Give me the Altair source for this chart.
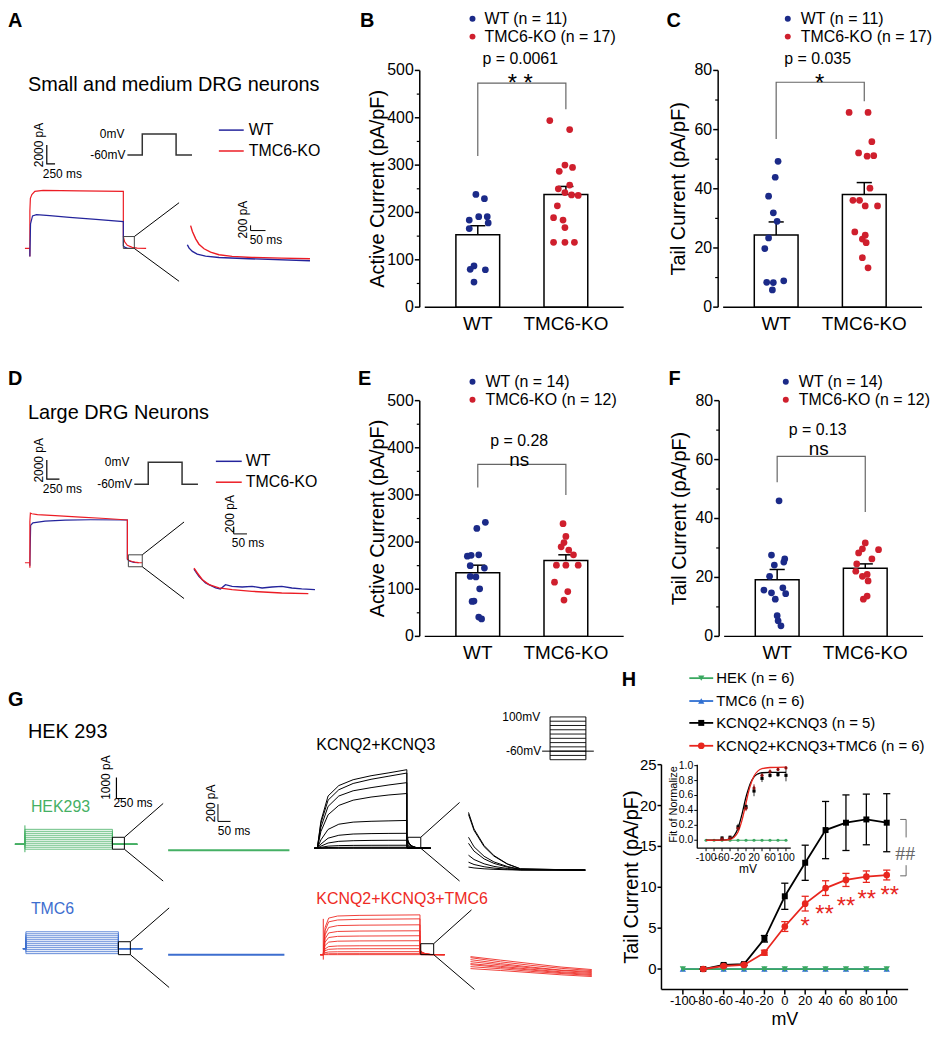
import altair as alt
import pandas as pd

FONT = "Liberation Sans"
ONE = pd.DataFrame({"a": [0]})
VW, VH = 925, 1000

NAVY = "#1b2a88"
DRED = "#cf1f2d"
TBLUE = "#24249c"
TRED = "#ec1c24"
GGREEN = "#45b064"
GBLUE = "#3d6ecf"
GRED = "#ee2a24"
HGREEN = "#3aa860"
HBLUE = "#2f6fd2"
HRED = "#e8261e"
GRAY = "#666666"

# panel origins (plot-area top-left, in chart pixels)
PA, PB, PC = (0, 60), (414, 60), (714, 60)
PD, PE, PF = (0, 392), (414, 392), (715, 392)
PG, PH = (0, 758), (657, 758)

# ===================== DATA: scatter/bar panels =====================
GROUPS = ["WT", "TMC6-KO"]

B_wt = [238, 229, 191, 191, 184, 178, 166, 87, 80, 79, 53]
B_wt_jit = [-2, 7, 1, 10, -9, 11, -9, -4, -8, 8, -4]
B_ko = [394, 375, 300, 295, 287, 258, 250, 242, 237, 236, 214, 189, 184, 168, 137, 137, 137]
B_ko_jit = [-17, 4, -1, 7, -7, 4, -8, -1, 6, 13, -9, -13, -3, -1, -13, -1, 9]
B_mean = [153, 238]
B_sem = [19, 17]

C_wt = [49.3, 43.9, 37.5, 31.9, 29.0, 23.4, 19.8, 8.4, 8.3, 8.9, 5.8]
C_wt_jit = [2, -1, -8, -3, 1, -8, -12, -10, -3, 8, -4]
C_ko = [65.8, 65.8, 55.9, 52.1, 51.0, 51.2, 40.2, 36.1, 36.1, 34.2, 34.2, 25.4, 24.3, 23.0, 21.8, 16.7, 13.3]
C_ko_jit = [-16, 4, 8, -6, 3, 10, 6, -12, -5, 1, 14, -10, 1, -2, 2, -2, 4]
C_mean = [24.4, 38.1]
C_sem = [4.4, 4.0]

E_wt = [242, 229, 173, 172, 170, 150, 145, 127, 126, 101, 75, 74, 41, 37]
E_wt_jit = [8, -1, 1, -7, -11, -8, 7, -8, -2, 2, -4, -6, 1, 4]
E_ko = [239, 212, 199, 190, 183, 173, 151, 151, 151, 115, 95, 77]
E_ko_jit = [-3, 0, -2, -5, 3, 8, -10, 0, 13, -12, 2, -2]
E_mean = [135, 161]
E_sem = [16, 12]

F_wt = [46, 27.6, 26.3, 25.2, 24.2, 20.4, 16.5, 15.7, 14.8, 14.5, 12.6, 7.0, 5.3, 3.6]
F_wt_jit = [2, -6, 8, 7, -3, -8, 6, -14, -6, 9, -2, 0, 1, 4]
F_ko = [31.7, 29.7, 29.4, 28.3, 26.3, 24.6, 22.1, 21.0, 20.4, 18.8, 13.7, 12.6]
F_ko_jit = [0, -3, 14, -7, 7, -9, -10, 2, -3, 3, 2, -2]
F_mean = [19.2, 23.1]
F_sem = [3.5, 1.5]

B_bracket = [319, 473, 473, 418]
C_bracket = [56.8, 76, 76, 69.6]
E_bracket = [316, 365, 365, 300]
F_bracket = [52.3, 61.1, 61.1, 42.2]

# ===================== DATA: traces A =====================
A_red_t = [-150, 0, 0, 0, 15, 60, 150, 400, 1500, 2830, 2830, 2870, 2950, 3100, 3250, 3520]
A_red_i = [0, 0, -850, 4000, 5300, 5700, 6050, 6150, 6100, 6050, 1260, 700, 330, 120, 40, 0]
A_blue_t = [0, 0, 20, 80, 200, 600, 1200, 2000, 2830, 2830, 2880, 2950, 3050]
A_blue_i = [0, -850, 2600, 3450, 3580, 3480, 3300, 3080, 2850, 280, 110, 30, 0]
A_box_t = [2830, 3163]
A_box_i = [0, 1263]
A_zoom = [[3163, 1263, 4518, 4842], [3163, 0, 4518, -3474]]
A_prot_t = [-440, 0, 0, 1000, 1000, 1470]
A_prot_v = [-60, -60, 0, 0, -60, -60]
A_in_red_t = [12, 18, 29, 40, 57, 79, 107, 151, 218, 318, 412]
A_in_red_i = [1283, 1057, 781, 577, 404, 275, 177, 113, 75, 49, 26]
A_in_blue_t = [1, 7, 18, 34, 62, 107, 207, 412]
A_in_blue_i = [555, 426, 302, 200, 125, 75, 26, -49]

# ===================== DATA: traces D =====================
D_red_t = [-98, 0, 0, 0, 10, 40, 150, 500, 1000, 1500, 1930, 1930, 1960, 2020, 2080, 2150, 2224]
D_red_i = [0, 0, -520, 4300, 5170, 5100, 5000, 4900, 4750, 4600, 4450, 420, 250, 130, 60, 20, 0]
D_blue_t = [0, 0, 15, 60, 300, 700, 1200, 1930, 1930, 1980, 2060, 2150]
D_blue_i = [0, -300, 3900, 4150, 4320, 4430, 4470, 4450, 350, 150, 40, 0]
D_box_t = [1949, 2224]
D_box_i = [-414, 827]
D_zoom = [[2224, 827, 3051, 4240], [2224, -414, 3051, -3723]]
D_prot_t = [-412, 0, 0, 1000, 1000, 1470]
D_prot_v = [-60, -60, 0, 0, -60, -60]
D_in_red_t = [7.5, 20, 39, 64, 101, 151, 226, 338, 438]
D_in_red_i = [673, 537, 354, 218, 128, 82, 35, -9, -27]
D_in_blue_t = [7.5, 26, 51, 89, 107, 126, 151, 189, 226, 264, 301, 338, 376, 413, 463]
D_in_blue_i = [646, 444, 264, 128, 101, 218, 172, 155, 172, 128, 155, 172, 128, 101, 82]

# ===================== DATA: traces G =====================
G_hek_levels = [714, 619, 524, 429, 333, 238, 143, 48, -48, -143, -238]
G_hek_t = [-278, 0, 0, 2444, 2444, 3139]
G_tmc_levels = [810, 714, 619, 524, 429, 333, 238, 143, 48, -48, -143, -238]
G_tmc_t = [-83, 0, 0, 2583, 2583, 3250]

G_k_t = [-83, 0, 100, 300, 600, 1000, 1500, 2000, 2500, 2500, 2560, 2640, 2750, 2900, 3167]
G_k_traces = [
    [0, 0, 1300, 2500, 3000, 3280, 3470, 3610, 3760, 480, 250, 110, 40, 5, 0],
    [0, 0, 1200, 2300, 2800, 3100, 3300, 3450, 3600, 460, 240, 105, 38, 5, 0],
    [0, 0, 1000, 2000, 2500, 2750, 2900, 3030, 3140, 400, 210, 90, 33, 4, 0],
    [0, 0, 800, 1600, 2050, 2300, 2450, 2550, 2620, 330, 170, 75, 27, 3, 0],
    [0, 0, 400, 900, 1150, 1250, 1290, 1310, 1330, 190, 100, 45, 16, 2, 0],
    [0, 0, 200, 480, 620, 680, 700, 710, 714, 110, 57, 25, 9, 1, 0],
    [0, 0, 100, 250, 330, 360, 375, 380, 381, 50, 26, 12, 4, 0, 0],
    [0, 0, 40, 100, 125, 135, 140, 142, 143, 20, 10, 5, 2, 0, 0],
    [0, 0, 15, 35, 42, 45, 47, 48, 48, 5, 3, 1, 0, 0, 0],
    [0, 0, 5, 10, 12, 14, 15, 15, 15, 0, 0, 0, 0, 0, 0],
    [0, 0, 0, 0, 0, 0, 0, 0, 0, 0, 0, 0, 0, 0, 0],
]
G_k_in_t = [0, 22, 62, 101, 154, 207, 464]
G_k_in = [
    [669, 476, 284, 169, 73, 15, 0],
    [646, 460, 272, 162, 70, 14, 0],
    [381, 270, 160, 95, 42, 9, 0],
    [311, 220, 130, 78, 34, 7, 0],
    [173, 123, 73, 43, 19, 4, 0],
    [92, 65, 39, 23, 10, 2, 0],
    [35, 25, 15, 9, 4, 1, 0],
]
G_r_t = [-83, 0, 50, 150, 400, 1000, 2700, 2700, 2760, 2850, 3000, 3389]
G_r_traces = [
    [0, 0, 1300, 1750, 1850, 1880, 1905, 240, 120, 50, 10, 0],
    [0, 0, 1150, 1570, 1660, 1690, 1714, 220, 110, 45, 9, 0],
    [0, 0, 950, 1300, 1390, 1410, 1429, 190, 95, 40, 8, 0],
    [0, 0, 760, 1040, 1110, 1130, 1143, 160, 80, 33, 7, 0],
    [0, 0, 600, 820, 875, 890, 905, 130, 65, 27, 5, 0],
    [0, 0, 440, 600, 645, 657, 667, 100, 50, 20, 4, 0],
    [0, 0, 280, 385, 415, 424, 429, 70, 35, 14, 3, 0],
    [0, 0, 190, 255, 277, 283, 286, 50, 25, 10, 2, 0],
    [0, 0, 95, 128, 138, 141, 143, 25, 12, 5, 1, 0],
    [0, 0, 30, 43, 46, 47, 48, 10, 5, 2, 0, 0],
    [0, 0, 0, 0, 0, 0, 0, 0, 0, 0, 0, 0],
]
G_r_in_t = [0, 120, 240, 360, 482]
G_r_in = [
    [231, 190, 150, 110, 81],
    [219, 170, 130, 95, 69],
    [196, 150, 110, 75, 58],
    [173, 135, 100, 70, 46],
    [150, 118, 85, 55, 35],
    [138, 105, 75, 45, 23],
    [115, 90, 60, 35, 12],
    [92, 70, 45, 20, 0],
]
G_prot_levels = [-100, -80, -60, -40, -20, 0, 20, 40, 60, 80, 100]

# ===================== DATA: panel H =====================
H_mv = [-100, -80, -60, -40, -20, 0, 20, 40, 60, 80, 100]
H_yticks = [0, 5, 10, 15, 20, 25]
H_hek = [0, 0, 0, 0, 0, 0, 0, 0, 0, 0, 0]
H_tmc = [0, 0, 0, 0, 0, 0, 0, 0, 0, 0, 0]
K_mv = [-80, -60, -40, -20, 0, 20, 40, 60, 80, 100]
K_mean = [0, 0.5, 0.6, 3.7, 8.9, 13.0, 17.0, 17.9, 18.3, 17.9]
K_err = [0.05, 0.1, 0.15, 0.4, 1.6, 2.15, 3.5, 3.4, 3.1, 3.55]
R_mean = [0, 0.37, 0.5, 2.0, 5.2, 8.0, 9.9, 10.9, 11.3, 11.5]
R_err = [0.05, 0.1, 0.1, 0.3, 0.6, 0.9, 0.9, 0.8, 0.7, 0.6]
STAR_mv = [20, 39, 60, 80.5, 103]
STAR_v = [6.0, 7.5, 8.4, 9.3, 9.8]
STAR_txt = ["*", "**", "**", "**", "**"]

IN_fit_mv = [-100, -60, -40, -30, -20, -10, 0, 5, 10, 20, 30, 40, 60, 100]
IN_fit_k = [0.0, 0.002, 0.02, 0.06, 0.16, 0.35, 0.58, 0.67, 0.75, 0.85, 0.89, 0.905, 0.91, 0.91]
IN_fit_r = [0.0, 0.001, 0.01, 0.04, 0.11, 0.27, 0.5, 0.62, 0.72, 0.86, 0.93, 0.96, 0.975, 0.98]
IN_mv = [-60, -40, -20, 0, 20, 40, 60, 80, 100]
IN_k = [0.03, 0.04, 0.18, 0.45, 0.66, 0.83, 0.87, 0.88, 0.87]
IN_k_e = [0.02, 0.02, 0.04, 0.04, 0.07, 0.05, 0.03, 0.03, 0.08]
IN_r = [0.02, 0.03, 0.16, 0.43, 0.70, 0.87, 0.92, 0.95, 0.97]
IN_r_e = [0.01, 0.01, 0.03, 0.04, 0.05, 0.04, 0.03, 0.02, 0.02]
IN_yticks = [0.0, 0.2, 0.4, 0.6, 0.8, 1.0]
IN_xticks = [-100, -80, -60, -40, -20, 0, 20, 40, 60, 80, 100]
IN_xlabels = [-100, -60, -20, 20, 60, 100]


# ===================== helpers =====================
def T(o, text, x, y, size=16, align="left", baseline="middle", color="black",
      angle=None, weight="normal", font=FONT, dy=None):
    kw = dict(text=text, fontSize=size, align=align, baseline=baseline,
              color=color, fontWeight=weight, font=font)
    if angle is not None:
        kw["angle"] = angle
    if dy is not None:
        kw["dy"] = dy
    return alt.Chart(ONE).mark_text(**kw).encode(x=alt.value(o[0] + x), y=alt.value(o[1] + y))


def HL(o, x1, x2, y, color, w=1.5):
    return alt.Chart(ONE).mark_rule(color=color, strokeWidth=w).encode(
        x=alt.value(o[0] + x1), x2=alt.value(o[0] + x2), y=alt.value(o[1] + y))


def DOT(o, x, y, color, shape="circle", size=36):
    return alt.Chart(ONE).mark_point(filled=True, shape=shape, size=size, color=color,
                                     opacity=1).encode(x=alt.value(o[0] + x), y=alt.value(o[1] + y))


def tdf(series):
    rows = []
    for k, (ts, vs) in enumerate(series):
        for o, (t, v) in enumerate(zip(ts, vs)):
            rows.append({"k": k, "o": o, "t": t, "i": v})
    return pd.DataFrame(rows)


class Frame:
    """A local (time, current) coordinate frame placed inside a panel."""

    def __init__(self, o, x0, kx, y0, ky):
        X0, Y0 = o[0] + x0, o[1] + y0
        self.sx = alt.Scale(domain=[0, 1000], range=[X0, X0 + 1000 * kx], nice=False, zero=False)
        self.sy = alt.Scale(domain=[0, 1000], range=[Y0, Y0 - 1000 * ky], nice=False, zero=False)

    def enc(self):
        return dict(x=alt.X("t:Q", scale=self.sx, axis=None),
                    y=alt.Y("i:Q", scale=self.sy, axis=None))

    def lines(self, series, color, width=1.0):
        return alt.Chart(tdf(series)).mark_line(color=color, strokeWidth=width).encode(
            detail="k:N", order="o:Q", **self.enc())

    def segs(self, segs, color="black", width=1.0):
        df = pd.DataFrame(segs, columns=["t", "i", "t2", "i2"])
        return alt.Chart(df).mark_rule(color=color, strokeWidth=width).encode(
            x2="t2:Q", y2="i2:Q", **self.enc())

    def box(self, t, i, color="black", width=1.0):
        df = pd.DataFrame({"t": [t[0]], "t2": [t[1]], "i": [i[0]], "i2": [i[1]]})
        return alt.Chart(df).mark_rect(fillOpacity=0, stroke=color, strokeWidth=width).encode(
            x2="t2:Q", y2="i2:Q", **self.enc())

    def bar(self, t, i, dt, di, width=1.2):
        return self.lines([([t, t, t + dt], [i + di, i, i])], "black", width)


# ===================== bar / scatter panels =====================
XD = [0.398, 2.656]
PXU = 210 / (XD[1] - XD[0])


def bar_panel(o, wt, wj, ko, kj, mean, sem, ymax, ystep, minor, ytitle, tdx, h,
              letter, lxy, lbase, dot_x, txt_x, leg_y, n_wt, n_ko,
              ptext, pxy, sig, sxy, ssize, sdy, bracket):
    ox, oy = o
    sx = alt.Scale(domain=XD, range=[ox, ox + 210], nice=False, zero=False)
    sy = alt.Scale(domain=[0, ymax], range=[oy + h, oy], nice=False, zero=False)
    X = alt.X("pos:Q", scale=sx, axis=None)
    Y = alt.Y("val:Q", scale=sy, axis=None)
    pts = pd.DataFrame({
        "grp": ["WT"] * len(wt) + ["TMC6-KO"] * len(ko),
        "pos": [1 + j / PXU for j in wj] + [2 + j / PXU for j in kj],
        "val": wt + ko})
    top = [m + s for m, s in zip(mean, sem)]
    summ = pd.DataFrame({"pos": [1, 2], "val": mean, "top": top,
                         "cl": [1 - 8 / PXU, 2 - 8 / PXU], "cr": [1 + 8 / PXU, 2 + 8 / PXU]})
    bars = alt.Chart(summ).mark_bar(orient="vertical", size=44, fill="white", stroke="black",
                                    strokeWidth=1.5).encode(x=X, y=Y)
    err = alt.Chart(summ).mark_rule(color="black", strokeWidth=1.5).encode(x=X, y=Y, y2="top:Q")
    cap = alt.Chart(summ).mark_rule(color="black", strokeWidth=1.5).encode(
        x=alt.X("cl:Q", scale=sx, axis=None), x2="cr:Q", y=alt.Y("top:Q", scale=sy, axis=None))
    dots = alt.Chart(pts).mark_circle(size=46, opacity=1).encode(
        x=X, y=Y, color=alt.Color("grp:N", scale=alt.Scale(domain=GROUPS, range=[NAVY, DRED]),
                                  legend=None))
    br = pd.DataFrame({"pos": [1, 1, 2, 2], "val": bracket, "o": [0, 1, 2, 3]})
    brk = alt.Chart(br).mark_line(color=GRAY, strokeWidth=1.2).encode(x=X, y=Y, order="o:Q")
    # --- axes drawn from the scales ---
    yvals = pd.DataFrame({"val": list(range(0, ymax + 1, ystep))})
    ydom = alt.Chart(pd.DataFrame({"val": [0], "v2": [ymax]})).mark_rule(
        color="black", strokeWidth=1.5).encode(x=alt.value(ox), y=Y, y2="v2:Q")
    xdom = alt.Chart(pd.DataFrame({"pos": [XD[0]], "p2": [XD[1]]})).mark_rule(
        color="black", strokeWidth=1.5).encode(x=X, x2="p2:Q", y=alt.value(oy + h))
    yt = alt.Chart(yvals).mark_rule(color="black", strokeWidth=1.5).encode(
        x=alt.value(ox - 5), x2=alt.value(ox), y=Y)
    ylab = alt.Chart(yvals).mark_text(fontSize=16, align="right", baseline="middle").encode(
        x=alt.value(ox - 6), y=Y, text="val:Q")
    mt = alt.Chart(pd.DataFrame({"val": minor})).mark_rule(color="black", strokeWidth=1.2).encode(
        x=alt.value(ox - 3), x2=alt.value(ox), y=Y)
    xlab = alt.Chart(pd.DataFrame({"pos": [1, 2], "lab": GROUPS})).mark_text(
        fontSize=19, align="center", baseline="middle").encode(
        x=X, y=alt.value(oy + h + 17), text="lab:N")
    texts = [
        T(o, ytitle, tdx, h / 2, size=20, align="center", angle=270),
        T(o, letter, lxy[0], lxy[1], size=20, weight="bold", baseline=lbase),
        DOT(o, dot_x, leg_y[0], NAVY), DOT(o, dot_x, leg_y[1], DRED),
        T(o, "WT (n = %d)" % n_wt, txt_x, leg_y[0]),
        T(o, "TMC6-KO (n = %d)" % n_ko, txt_x, leg_y[1]),
        T(o, ptext, pxy[0], pxy[1], align="center"),
        T(o, sig, sxy[0], sxy[1], size=ssize, align="center", dy=sdy),
    ]
    return [alt.layer(bars, err, cap, dots, brk, ydom, xdom, yt, ylab, mt, xlab)] + texts


panelB = bar_panel(PB, B_wt, B_wt_jit, B_ko, B_ko_jit, B_mean, B_sem, 500, 100,
                   [50, 150, 250, 350, 450], "Active Current (pA/pF)", -42, 238,
                   "B", (-60, -60), "top", 53, 65, (-52, -34), 11, 17,
                   "p = 0.0061", (101, -11), "* *", (101, 7), 24, 7, B_bracket)
panelC = bar_panel(PC, C_wt, C_wt_jit, C_ko, C_ko_jit, C_mean, C_sem, 80, 20,
                   [10, 30, 50, 70], "Tail Current (pA/pF)", -39, 238,
                   "C", (-52, -60), "top", 70, 83, (-52, -34), 11, 17,
                   "p = 0.035", (100, -11), "*", (102, 7), 24, 7, C_bracket)
panelE = bar_panel(PE, E_wt, E_wt_jit, E_ko, E_ko_jit, E_mean, E_sem, 500, 100,
                   [50, 150, 250, 350, 450], "Active Current (pA/pF)", -42, 237,
                   "E", (-62, -22), "middle", 53, 66, (-19, -1), 14, 12,
                   "p = 0.28", (100, 41), "ns", (100, 60), 19, 0, E_bracket)
panelF = bar_panel(PF, F_wt, F_wt_jit, F_ko, F_ko_jit, F_mean, F_sem, 80, 20,
                   [10, 30, 50, 70], "Tail Current (pA/pF)", -39, 237,
                   "F", (-51, -22), "middle", 67, 80, (-19, -1), 14, 12,
                   "p = 0.13", (99, 30), "ns", (100, 49), 19, 0, F_bracket)


# ===================== panel A =====================
def panel_A():
    o = PA
    fm = Frame(o, 22, 0.0332, 179, 0.0095)
    main = alt.layer(
        fm.lines([(A_red_t, A_red_i)], TRED, 1.2),
        fm.lines([(A_blue_t, A_blue_i)], TBLUE, 1.2),
        fm.box(A_box_t, A_box_i, "#444444", 1.0),
        fm.segs(A_zoom),
        fm.bar(512, 8947, 250, 2000))
    fp = Frame(o, 135, 0.034, 64, 0.35)
    prot = fp.lines([(A_prot_t, A_prot_v)], "#333333", 1.5)
    fi = Frame(o, 180, 0.3, 190, 0.0265)
    ins = alt.layer(
        fi.lines([(A_in_red_t, A_in_red_i)], TRED, 1.4),
        fi.lines([(A_in_blue_t, A_in_blue_i)], TBLUE, 1.4),
        fi.bar(213, 1094, 50, 200, 1.0))
    texts = [
        T(o, "A", 0, -60, size=20, weight="bold", baseline="top"),
        T(o, "Small and medium DRG neurons", 20, 15, size=20),
        T(o, "2000 pA", 31, 75, size=12, align="center", angle=270),
        T(o, "250 ms", 35, 104, size=12),
        T(o, "0mV", 117, 64, size=12, align="right"),
        T(o, "-60mV", 118, 85, size=12, align="right"),
        HL(o, 212, 237, 60, TBLUE), HL(o, 212, 237, 81, TRED),
        T(o, "WT", 242, 60), T(o, "TMC6-KO", 242, 81),
        T(o, "200 pA", 236, 150, size=12, align="center", angle=270),
        T(o, "50 ms", 243, 171, size=12),
    ]
    return [main, prot, ins] + texts


# ===================== panel D =====================
def panel_D():
    o = PD
    fm = Frame(o, 22, 0.0508, 163, 0.00967)
    main = alt.layer(
        fm.lines([(D_blue_t, D_blue_i)], TBLUE, 1.2),
        fm.lines([(D_red_t, D_red_i)], TRED, 1.2),
        fm.box(D_box_t, D_box_i, "#444444", 1.0),
        fm.segs(D_zoom),
        fm.bar(335, 8687, 250, 2000))
    fp = Frame(o, 141, 0.034, 62, 0.367)
    prot = fp.lines([(D_prot_t, D_prot_v)], "#333333", 1.5)
    fi = Frame(o, 185, 0.267, 193, 0.0367)
    ins = alt.layer(
        fi.lines([(D_in_blue_t, D_in_blue_i)], TBLUE, 1.4),
        fi.lines([(D_in_red_t, D_in_red_i)], TRED, 1.4),
        fi.bar(157, 1608, 50, 200, 1.0))
    texts = [
        T(o, "D", 0, -22, size=20, weight="bold"),
        T(o, "Large DRG Neurons", 20, 12, size=20),
        T(o, "2000 pA", 31, 60, size=12, align="center", angle=270),
        T(o, "250 ms", 35, 89, size=12),
        T(o, "0mV", 122, 62, size=12, align="right"),
        T(o, "-60mV", 125, 84, size=12, align="right"),
        HL(o, 209, 235, 61, TBLUE), HL(o, 209, 235, 82, TRED),
        T(o, "WT", 239, 61), T(o, "TMC6-KO", 239, 82),
        T(o, "200 pA", 223, 114, size=12, align="center", angle=270),
        T(o, "50 ms", 225, 143, size=12),
    ]
    return [main, prot, ins] + texts


# ===================== panel G =====================
def panel_G():
    o = PG
    f_hek = Frame(o, 17, 0.036, 80, 0.021)
    hek = alt.layer(
        f_hek.lines([(G_hek_t, [0, 0, L, L, 0, 0]) for L in G_hek_levels], GGREEN, 0.8),
        f_hek.lines([([0, 0], [905, -381])], GGREEN, 1.0),
        f_hek.box([2444, 2778], [-238, 333]),
        f_hek.segs([[2778, 333, 3861, 1952], [2778, -238, 3861, -1762]]),
        f_hek.bar(2556, 2190, 250, 1000))
    f_hek_in = Frame(o, 161, 0.253, 86, 0.0867)
    hek_in = alt.layer(
        f_hek_in.lines([([0, 482], [0, 0])], GGREEN, 2.0),
        f_hek_in.bar(198, 334, 50, 200, 1.0))
    f_tmc = Frame(o, 18, 0.036, 185, 0.021)
    tmc = alt.layer(
        f_tmc.lines([(G_tmc_t, [0, 0, L, L, 0, 0]) for L in G_tmc_levels], GBLUE, 0.8),
        f_tmc.box([2583, 2917], [-286, 333]),
        f_tmc.segs([[2917, 333, 4000, 1952], [2917, -286, 4000, -1857]]))
    f_tmc_in = Frame(o, 161, 0.253, 191, 0.0867)
    tmc_in = f_tmc_in.lines([([0, 462], [0, 0])], GBLUE, 2.0)
    f_k = Frame(o, 311, 0.036, 84, 0.021)
    kc = alt.layer(
        f_k.lines([(G_k_t, tr) for tr in G_k_traces], "black", 1.0),
        f_k.box([2528, 2889], [0, 524]),
        f_k.segs([[2889, 524, 3972, 2190], [2889, 0, 3972, -1571]]))
    f_k_in = Frame(o, 463, 0.253, 106, 0.0867)
    kc_in = f_k_in.lines([(G_k_in_t, tr) for tr in G_k_in], "black", 1.0)
    f_r = Frame(o, 317, 0.036, 191, 0.021)
    kr = alt.layer(
        f_r.lines([(G_r_t, tr) for tr in G_r_traces], GRED, 0.9),
        f_r.lines([([0, 0], [1714, -238])], GRED, 1.0),
        f_r.box([2722, 3083], [0, 524]),
        f_r.segs([[3083, 524, 4139, 2143], [3083, 0, 4222, -1667]]))
    f_r_in = Frame(o, 465, 0.253, 213, 0.0867)
    kr_in = f_r_in.lines([(G_r_in_t, tr) for tr in G_r_in], GRED, 0.9)
    f_p = Frame(o, 545, 0.036, -26.5, 0.215)
    prot = alt.layer(
        f_p.lines([([0, 1000], [L, L]) for L in G_prot_levels], "black", 0.9),
        f_p.lines([([0, 0], [-100, 100]), ([1000, 1000], [-100, 100])], "black", 1.0),
        f_p.lines([([-222, 1222], [-60, -60])], "black", 1.0))
    texts = [
        T(o, "G", 0, -65, size=20, weight="bold"),
        T(o, "HEK 293", 20, -33, size=20),
        T(o, "HEK293", 23, 43, size=16, color=GGREEN),
        T(o, "TMC6", 23, 145, size=16, color=GBLUE),
        T(o, "1000 pA", 99, 13, size=12, align="center", angle=270),
        T(o, "250 ms", 106, 39, size=12),
        T(o, "200 pA", 204, 39, size=12, align="center", angle=270),
        T(o, "50 ms", 211, 67, size=12),
        T(o, "KCNQ2+KCNQ3", 310, -20, size=16),
        T(o, "KCNQ2+KCNQ3+TMC6", 310, 135, size=16, color=GRED),
        T(o, "100mV", 535, -48, size=12, align="right"),
        T(o, "-60mV", 536, -14, size=12, align="right"),
    ]
    return [hek, hek_in, tmc, tmc_in, kc, kc_in, kr, kr_in, prot] + texts


# ===================== panel H =====================
def panel_H():
    o = PH
    ox, oy = o
    hh = 226
    sx = alt.Scale(domain=[-121, 121], range=[ox, ox + 248], nice=False, zero=False)
    sy = alt.Scale(domain=[-2.5, 25], range=[oy + hh, oy], nice=False, zero=False)
    X = alt.X("mv:Q", scale=sx, axis=None)
    Y = alt.Y("v:Q", scale=sy, axis=None)
    hek = pd.DataFrame({"mv": H_mv, "v": H_hek})
    tmc = pd.DataFrame({"mv": H_mv, "v": H_tmc})
    kd = pd.DataFrame({"mv": K_mv, "v": K_mean,
                       "lo": [m - e for m, e in zip(K_mean, K_err)],
                       "hi": [m + e for m, e in zip(K_mean, K_err)],
                       "cl": [x - 3.5 for x in K_mv], "cr": [x + 3.5 for x in K_mv]})
    rd = pd.DataFrame({"mv": K_mv, "v": R_mean,
                       "lo": [m - e for m, e in zip(R_mean, R_err)],
                       "hi": [m + e for m, e in zip(R_mean, R_err)],
                       "cl": [x - 3.5 for x in K_mv], "cr": [x + 3.5 for x in K_mv]})
    stars = pd.DataFrame({"mv": STAR_mv, "v": STAR_v, "s": STAR_txt})
    br1 = pd.DataFrame({"mv": [113.2, 119.0, 119.0], "v": [18.3, 18.3, 16.1], "o": [0, 1, 2]})
    br2 = pd.DataFrame({"mv": [119.0, 119.0, 113.2], "v": [12.7, 11.4, 11.4], "o": [0, 1, 2]})

    def errs(df, color):
        return [
            alt.Chart(df).mark_rule(color=color, strokeWidth=1.3).encode(
                x=X, y=alt.Y("lo:Q", scale=sy, axis=None), y2="hi:Q"),
            alt.Chart(df).mark_rule(color=color, strokeWidth=1.3).encode(
                x=alt.X("cl:Q", scale=sx, axis=None), x2="cr:Q",
                y=alt.Y("hi:Q", scale=sy, axis=None)),
            alt.Chart(df).mark_rule(color=color, strokeWidth=1.3).encode(
                x=alt.X("cl:Q", scale=sx, axis=None), x2="cr:Q",
                y=alt.Y("lo:Q", scale=sy, axis=None)),
        ]

    xv = pd.DataFrame({"mv": H_mv, "lab": [str(v) for v in H_mv]})
    yv = pd.DataFrame({"v": H_yticks})
    axes = [
        alt.Chart(pd.DataFrame({"mv": [-121], "m2": [121]})).mark_rule(
            color="black", strokeWidth=1.5).encode(x=X, x2="m2:Q", y=alt.value(oy + hh)),
        alt.Chart(pd.DataFrame({"v": [-2.5], "v2": [25]})).mark_rule(
            color="black", strokeWidth=1.5).encode(x=alt.value(ox), y=Y, y2="v2:Q"),
        alt.Chart(xv).mark_rule(color="black", strokeWidth=1.5).encode(
            x=X, y=alt.value(oy + hh), y2=alt.value(oy + hh + 5)),
        alt.Chart(xv).mark_text(fontSize=13, align="center", baseline="middle").encode(
            x=X, y=alt.value(oy + hh + 12), text="lab:N"),
        alt.Chart(yv).mark_rule(color="black", strokeWidth=1.5).encode(
            x=alt.value(ox - 4), x2=alt.value(ox), y=Y),
        alt.Chart(yv).mark_text(fontSize=15, align="right", baseline="middle").encode(
            x=alt.value(ox - 5), y=Y, text="v:Q"),
    ]

    main = alt.layer(
        alt.Chart(tmc).mark_line(color=HBLUE, strokeWidth=1.8).encode(x=X, y=Y),
        alt.Chart(tmc).mark_point(filled=True, shape="triangle-up", size=40, color=HBLUE,
                                  opacity=1).encode(x=X, y=Y),
        alt.Chart(hek).mark_line(color=HGREEN, strokeWidth=1.8).encode(x=X, y=Y),
        alt.Chart(hek).mark_point(filled=True, shape="triangle-down", size=40, color=HGREEN,
                                  opacity=1).encode(x=X, y=Y),
        *errs(kd, "black"),
        alt.Chart(kd).mark_line(color="black", strokeWidth=1.8).encode(x=X, y=Y),
        alt.Chart(kd).mark_point(filled=True, shape="square", size=36, color="black",
                                 opacity=1).encode(x=X, y=Y),
        *errs(rd, HRED),
        alt.Chart(rd).mark_line(color=HRED, strokeWidth=1.8).encode(x=X, y=Y),
        alt.Chart(rd).mark_point(filled=True, shape="circle", size=45, color=HRED,
                                 opacity=1).encode(x=X, y=Y),
        alt.Chart(stars).mark_text(color=HRED, fontSize=24, align="center", baseline="middle",
                                   dy=7).encode(x=X, y=Y, text="s:N"),
        alt.Chart(br1).mark_line(color=GRAY, strokeWidth=1.0).encode(x=X, y=Y, order="o:Q"),
        alt.Chart(br2).mark_line(color=GRAY, strokeWidth=1.0).encode(x=X, y=Y, order="o:Q"),
        *axes,
    )
    texts = [
        T(o, "mV", 124, hh + 31, size=18, align="center"),
        T(o, "Tail Current (pA/pF)", -30, hh / 2, size=20, align="center", angle=270),
        T(o, "##", 245, 90, size=20, align="center", color=GRAY, font="Liberation Serif"),
        T(o, "H", -40, -85, size=20, weight="bold"),
        HL(o, 28, 52, -87, HGREEN, 1.8), DOT(o, 40, -87, HGREEN, "triangle-down", 40),
        T(o, "HEK (n = 6)", 55, -87, size=15),
        HL(o, 28, 52, -64, HBLUE, 1.8), DOT(o, 40, -64, HBLUE, "triangle-up", 40),
        T(o, "TMC6 (n = 6)", 55, -64, size=15),
        HL(o, 28, 52, -42, "black", 1.8), DOT(o, 40, -42, "black", "square", 36),
        T(o, "KCNQ2+KCNQ3 (n = 5)", 55, -42, size=15),
        HL(o, 28, 52, -19, HRED, 1.8), DOT(o, 40, -19, HRED, "circle", 45),
        T(o, "KCNQ2+KCNQ3+TMC6 (n = 6)", 55, -19, size=15),
    ]

    # ----- inset -----
    isx = alt.Scale(domain=[-122, 112], range=[ox + 36, ox + 130], nice=False, zero=False)
    isy = alt.Scale(domain=[-0.107, 1.013], range=[oy + 84, oy], nice=False, zero=False)
    IX = alt.X("mv:Q", scale=isx, axis=None)
    IY = alt.Y("v:Q", scale=isy, axis=None)
    g = pd.DataFrame({"mv": H_mv, "v": H_hek})
    fk = pd.DataFrame({"mv": IN_fit_mv, "v": IN_fit_k})
    fr = pd.DataFrame({"mv": IN_fit_mv, "v": IN_fit_r})
    pk = pd.DataFrame({"mv": IN_mv, "v": IN_k,
                       "lo": [a - b for a, b in zip(IN_k, IN_k_e)],
                       "hi": [a + b for a, b in zip(IN_k, IN_k_e)]})
    pr = pd.DataFrame({"mv": IN_mv, "v": IN_r,
                       "lo": [a - b for a, b in zip(IN_r, IN_r_e)],
                       "hi": [a + b for a, b in zip(IN_r, IN_r_e)]})
    dom_l = pd.DataFrame({"mv": [-122], "v": [-0.107], "v2": [1.013]})
    dom_b = pd.DataFrame({"mv": [-122], "mv2": [112], "v": [-0.107]})
    yt = pd.DataFrame({"v": IN_yticks})
    xt = pd.DataFrame({"mv": IN_xticks})
    xl = pd.DataFrame({"mv": IN_xlabels, "lab": [str(v) for v in IN_xlabels]})
    inset = alt.layer(
        alt.Chart(dom_l).mark_rule(color="black", strokeWidth=1.3).encode(x=IX, y=IY, y2="v2:Q"),
        alt.Chart(dom_b).mark_rule(color="black", strokeWidth=1.3).encode(x=IX, x2="mv2:Q", y=IY),
        alt.Chart(yt).mark_rule(color="black", strokeWidth=1).encode(
            x=alt.value(ox + 33), x2=alt.value(ox + 36), y=IY),
        alt.Chart(yt).mark_text(fontSize=10.5, align="right", baseline="middle").encode(
            x=alt.value(ox + 32), y=IY, text=alt.Text("v:Q", format=".1f")),
        alt.Chart(xt).mark_rule(color="black", strokeWidth=1).encode(
            x=IX, y=alt.value(oy + 84), y2=alt.value(oy + 87)),
        alt.Chart(xl).mark_text(fontSize=10.5, align="center", baseline="middle").encode(
            x=IX, y=alt.value(oy + 94), text="lab:N"),
        alt.Chart(g).mark_line(color=HGREEN, strokeWidth=1.2).encode(x=IX, y=IY),
        alt.Chart(g).mark_point(filled=True, shape="circle", size=10, color=HGREEN,
                                opacity=1).encode(x=IX, y=IY),
        alt.Chart(pk).mark_rule(color="#333333", strokeWidth=1).encode(
            x=IX, y=alt.Y("lo:Q", scale=isy, axis=None), y2="hi:Q"),
        alt.Chart(pr).mark_rule(color="#b03030", strokeWidth=1).encode(
            x=IX, y=alt.Y("lo:Q", scale=isy, axis=None), y2="hi:Q"),
        alt.Chart(fk).mark_line(color="black", strokeWidth=1.3, interpolate="monotone").encode(x=IX, y=IY),
        alt.Chart(fr).mark_line(color=HRED, strokeWidth=1.3, interpolate="monotone").encode(x=IX, y=IY),
        alt.Chart(pk).mark_point(filled=True, shape="square", size=10, color="black",
                                 opacity=1).encode(x=IX, y=IY),
        alt.Chart(pr).mark_point(filled=True, shape="circle", size=10, color="#8a1010",
                                 opacity=1).encode(x=IX, y=IY),
    )
    texts += [
        T(o, "Fit of Normalize", 13, 40, size=11, align="center", angle=270),
        T(o, "mV", 87, 105, size=12, align="center"),
    ]
    return [main, inset] + texts


children = (panel_A() + panelB + panelC + panel_D() + panelE + panelF +
            panel_G() + panel_H())

chart = alt.layer(*children).resolve_scale(x="independent", y="independent").properties(
    width=VW, height=VH, padding={"left": 0, "top": 0, "right": 0, "bottom": 0}
).configure(font=FONT).configure_view(stroke=None)

chart.save("out.html", embed_options={"renderer": "svg", "actions": False})
